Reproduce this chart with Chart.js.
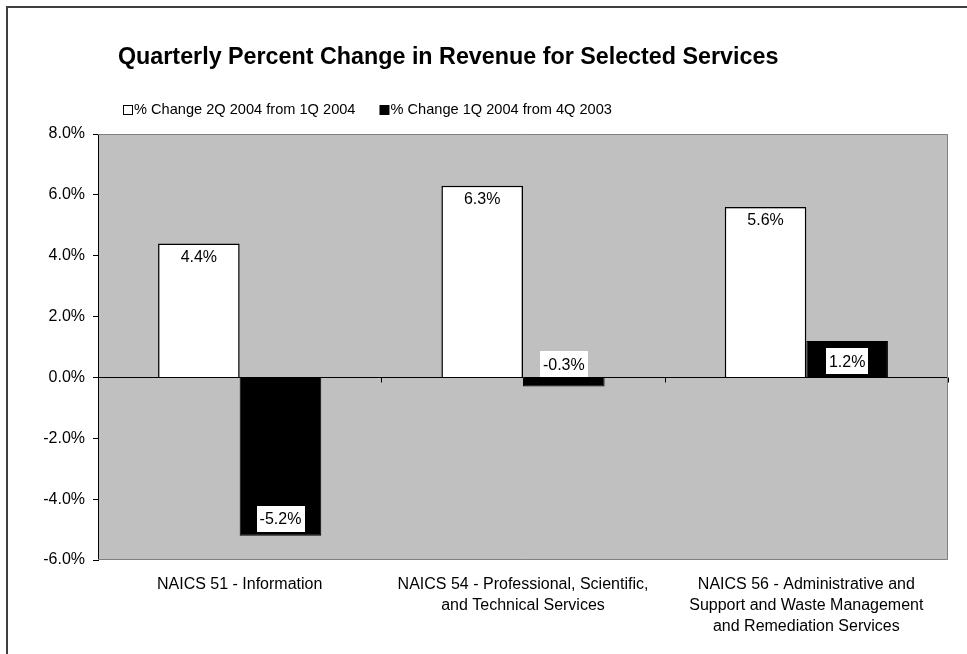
<!DOCTYPE html>
<html>
<head>
<meta charset="utf-8">
<title>Quarterly Percent Change in Revenue for Selected Services</title>
<script src="https://cdn.jsdelivr.net/npm/chart.js@4/dist/chart.umd.min.js"></script>
<style>
  html, body { margin: 0; padding: 0; background: #fff; }
  #wrap { width: 967px; height: 654px; }
</style>
</head>
<body>
<div id="wrap"><canvas id="revChart" width="967" height="654"></canvas></div>
<script>
// chart values
var chartTitle = "Quarterly Percent Change in Revenue for Selected Services";
var categories = [
  ["NAICS 51 - Information"],
  ["NAICS 54 - Professional, Scientific,", "and Technical Services"],
  ["NAICS 56 - Administrative and", "Support and Waste Management", "and Remediation Services"]
];
var seriesNames = ["% Change 2Q 2004 from 1Q 2004", "% Change 1Q 2004 from 4Q 2003"];
var change2Q04 = [4.4, 6.3, 5.6];
var change1Q04 = [-5.2, -0.3, 1.2];
var yTicks = [-6, -4, -2, 0, 2, 4, 6, 8];

var FONT = "'Liberation Sans', Arial, sans-serif";

function pct(v) {
  return v.toFixed(1) + "%";
}

// grey plot area + outer frame
var backdrop = {
  id: "backdrop",
  beforeDraw: function (chart) {
    var c = chart.ctx, a = chart.chartArea;
    c.save();
    c.fillStyle = "#fff";
    c.fillRect(0, 0, chart.width, chart.height);
    c.fillStyle = "#c0c0c0";
    c.fillRect(a.left, a.top, a.right - a.left, a.bottom - a.top);
    // outer chart border (top and left only are visible)
    c.strokeStyle = "#404040";
    c.lineWidth = 2;
    c.beginPath();
    c.moveTo(7, chart.height + 2);
    c.lineTo(7, 7);
    c.lineTo(chart.width + 2, 7);
    c.stroke();
    c.restore();
  },
  afterDatasetsDraw: function (chart) {
    var c = chart.ctx, a = chart.chartArea;
    var xs = chart.scales.x, ys = chart.scales.y;
    c.save();
    // plot frame
    c.strokeStyle = "#808080";
    c.lineWidth = 1;
    c.beginPath();
    c.moveTo(a.left, a.top + 0.5);
    c.lineTo(a.right - 0.5, a.top + 0.5);
    c.lineTo(a.right - 0.5, a.bottom - 0.5);
    c.lineTo(a.left, a.bottom - 0.5);
    c.stroke();
    // category tick marks on the zero line
    var y0 = Math.round(ys.getPixelForValue(0)) + 0.5;
    c.strokeStyle = "#000";
    c.beginPath();
    for (var i = 0; i < categories.length; i++) {
      var bx = Math.round(xs.getPixelForValue(i) + (xs.getPixelForValue(1) - xs.getPixelForValue(0)) / 2) + 0.5;
      c.moveTo(bx, y0);
      c.lineTo(bx, y0 + 5);
    }
    c.stroke();
    c.restore();
  }
};

// value labels: plain text in white bars, boxed text in black bars
var valueLabels = {
  id: "valueLabels",
  afterDatasetsDraw: function (chart) {
    var c = chart.ctx;
    var zero = chart.scales.y.getPixelForValue(0);
    c.save();
    c.font = "16px " + FONT;
    c.textAlign = "center";
    c.textBaseline = "middle";
    chart.data.datasets.forEach(function (ds, di) {
      var meta = chart.getDatasetMeta(di);
      meta.data.forEach(function (bar, i) {
        var v = ds.data[i];
        var txt = pct(v);
        if (di === 0) {
          c.fillStyle = "#000";
          c.fillText(txt, bar.x, bar.y + 14);
          return;
        }
        var len = Math.abs(bar.y - zero);
        var boxH = 26, boxW = c.measureText(txt).width + 6;
        var cy;
        if (len >= 50) {
          cy = v < 0 ? bar.y - 17 : bar.y + 17;
        } else if (len >= boxH) {
          cy = (bar.y + zero) / 2 + 2;
        } else {
          cy = zero - boxH / 2;
        }
        c.fillStyle = "#fff";
        c.fillRect(Math.round(bar.x - boxW / 2), Math.round(cy - boxH / 2), Math.round(boxW), boxH);
        c.fillStyle = "#000";
        c.fillText(txt, bar.x, cy + 1);
      });
    });
    c.restore();
  }
};

// title and legend placed like the original sheet
var header = {
  id: "header",
  afterDraw: function (chart) {
    var c = chart.ctx;
    c.save();
    c.fillStyle = "#000";
    c.textBaseline = "middle";
    c.textAlign = "left";
    c.font = "bold 23.3px " + FONT;
    c.fillText(chartTitle, 118, 58);

    c.font = "14.6px " + FONT;
    var x = 123, y = 110;
    chart.data.datasets.forEach(function (ds, di) {
      c.fillStyle = ds.backgroundColor;
      c.fillRect(x + 0.5, y - 4.5, 9, 9);
      c.strokeStyle = "#000";
      c.lineWidth = 1;
      c.strokeRect(x + 0.5, y - 4.5, 9, 9);
      c.fillStyle = "#000";
      c.fillText(ds.label, x + 11, y);
      x += 11 + c.measureText(ds.label).width + 24;
    });
    c.restore();
  }
};

var ctx = document.getElementById("revChart").getContext("2d");

var revChart = new Chart(ctx, {
  type: "bar",
  data: {
    labels: categories,
    datasets: [
      {
        label: seriesNames[0],
        data: change2Q04,
        backgroundColor: "#ffffff",
        borderColor: "#000000",
        borderWidth: 1.5
      },
      {
        label: seriesNames[1],
        data: change1Q04,
        backgroundColor: "#000000",
        borderColor: "#000000",
        borderWidth: 1
      }
    ]
  },
  options: {
    responsive: false,
    animation: false,
    devicePixelRatio: 1,
    layout: { padding: { top: 134, right: 19, bottom: 0, left: 0 } },
    datasets: {
      bar: { categoryPercentage: 0.576, barPercentage: 1.0, borderSkipped: "start" }
    },
    plugins: {
      legend: { display: false },
      title: { display: false },
      tooltip: { enabled: false }
    },
    scales: {
      x: {
        grid: { display: false, drawTicks: false },
        border: { display: false },
        ticks: {
          color: "#000",
          font: { family: FONT, size: 16, lineHeight: "21px" },
          padding: 14,
          maxRotation: 0,
          autoSkip: false
        },
        afterFit: function (s) { s.height = 94; }
      },
      y: {
        min: -6,
        max: 8,
        afterBuildTicks: function (s) {
          s.ticks = yTicks.map(function (v) { return { value: v }; });
        },
        grid: {
          color: function (c) { return c.tick && c.tick.value === 0 ? "#000" : "rgba(0,0,0,0)"; },
          lineWidth: 1,
          drawTicks: true,
          tickLength: 5,
          tickColor: "#000"
        },
        border: { display: true, color: "#000", width: 1 },
        ticks: {
          color: "#000",
          font: { family: FONT, size: 16 },
          padding: 8,
          callback: function (v) { return pct(v); }
        },
        afterFit: function (s) { s.width = 98; }
      }
    }
  },
  plugins: [backdrop, valueLabels, header]
});
</script>
</body>
</html>
